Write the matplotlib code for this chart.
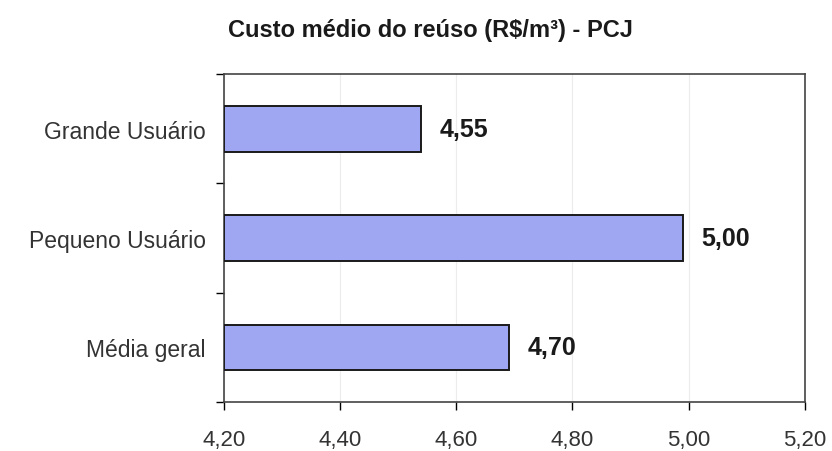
import numpy as np
import matplotlib.pyplot as plt

plt.rcParams['font.family'] = ['Liberation Sans', 'DejaVu Sans']

# Data (top to bottom)
categorias = ['Grande Usuário', 'Pequeno Usuário', 'Média geral']
custos = [4.54, 4.99, 4.69]
rotulos = ['4,55', '5,00', '4,70']
xticks = [4.20, 4.40, 4.60, 4.80, 5.00, 5.20]

fig = plt.figure(figsize=(8.32, 4.52), dpi=100)
ax = fig.add_axes([0.269, 0.108, 0.6985, 0.726])

pos = np.arange(len(categorias))[::-1]
ax.barh(pos, np.array(custos) - 4.20, left=4.20, height=0.42,
        color='#9FA7F2', edgecolor='#1a1a1a', linewidth=1.4, zorder=3)

for p, c, r in zip(pos, custos, rotulos):
    ax.text(c + 0.032, p, r, va='center', ha='left', fontsize=18,
            fontweight='bold', color='#1a1a1a')

ax.set_xlim(4.20, 5.20)
ax.set_ylim(-0.5, 2.5)
ax.set_xticks(xticks)
ax.set_xticklabels([('%.2f' % v).replace('.', ',') for v in xticks], fontsize=16,
                   color='#333333')
ax.tick_params(axis='x', direction='out', length=6, width=1, pad=13)

# category ticks between bars, labels at centers
ax.set_yticks([-0.5, 0.5, 1.5, 2.5])
ax.set_yticklabels([])
ax.set_yticks(pos, minor=True)
ax.set_yticklabels(categorias, minor=True, fontsize=16.5, color='#333333')
ax.tick_params(axis='y', which='major', direction='out', length=6, width=1)
ax.tick_params(axis='y', which='minor', length=0, pad=13)

ax.grid(axis='x', color='#ececec', linewidth=0.8, zorder=0)
for s in ax.spines.values():
    s.set_color('#444444')
    s.set_linewidth(1.2)

fig.text(0.517, 0.932, 'Custo médio do reúso (R$/m³) - PCJ', ha='center',
         va='center', fontsize=17, fontweight='bold', color='#1a1a1a')

fig.savefig('out.png', dpi=100)
